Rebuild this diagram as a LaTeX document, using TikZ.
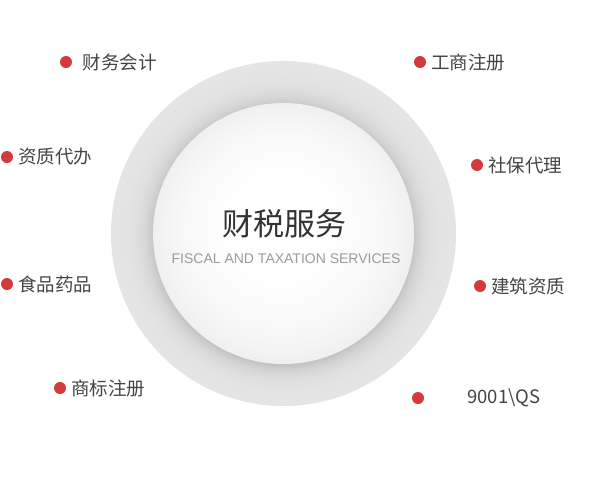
\documentclass[tikz,border=0pt]{standalone}
\usepackage{fontspec}
\setmainfont{Noto Sans CJK SC}
\newfontfamily\latinfont{Liberation Sans}
\usetikzlibrary{positioning}
\definecolor{dot1}{HTML}{D33A3A}
\definecolor{label1}{HTML}{444444}
\definecolor{head1}{HTML}{333333}
\definecolor{sub1}{HTML}{9A9A9A}

\begin{document}
\begin{tikzpicture}[x=1pt,y=-1pt]
\tikzstyle{dot}=[circle,fill=dot1,minimum size=12pt,inner sep=0pt]
\tikzstyle{item}=[inner sep=0pt,anchor=west,text=label1,font=\fontsize{18.5}{18.5}\selectfont]
\tikzstyle{heading}=[inner sep=0pt,text=head1,font=\fontsize{31}{31}\selectfont]
\tikzstyle{subheading}=[inner sep=0pt,text=sub1,font=\latinfont\fontsize{14}{14}\selectfont]
\useasboundingbox (0,0) rectangle (601,477);

% Draw the ring, darker towards the core
\foreach \r in {172.5,171.5,...,130.5}
{
\pgfmathsetmacro\p{9.8+12.8*exp(-(\r-130.5)/11)}
\pgfmathsetmacro\dy{(172.5-\r)*0.05}
\fill[black!\p] (283.5,233.5+\dy) circle (\r pt);
}

% Draw the core disc, white towards the top
\foreach \r in {130.5,129,...,1}
{
\pgfmathsetmacro\p{6*(\r/130.5)^3}
\pgfmathsetmacro\dy{(130.5-\r)*0.1}
\fill[black!\p] (283.5-\dy*0.3,233.5-\dy) circle (\r pt);
}

% Titles in the core
\node[heading] (head) at (284,224) {财税服务};
\node[subheading] (subhead) at (286,259) {FISCAL AND TAXATION SERVICES};

% Draw the dots and their labels
\foreach \name/\x/\y/\gap/\txt in {1/66/62/10.5/财务会计,2/7/157/5/资质代办,3/7/284/5/食品药品,4/60/388/5/商标注册,5/420/62/5/工商注册,6/477/165/5/社保代理,7/480/286/5/建筑资质,8/418/398/43/9001\textbackslash QS}
{
\node[dot] (D-\name) at (\x,\y) {};
\node[item,right=\gap pt of D-\name] (L-\name) {\txt};
}
\end{tikzpicture}
\end{document}
